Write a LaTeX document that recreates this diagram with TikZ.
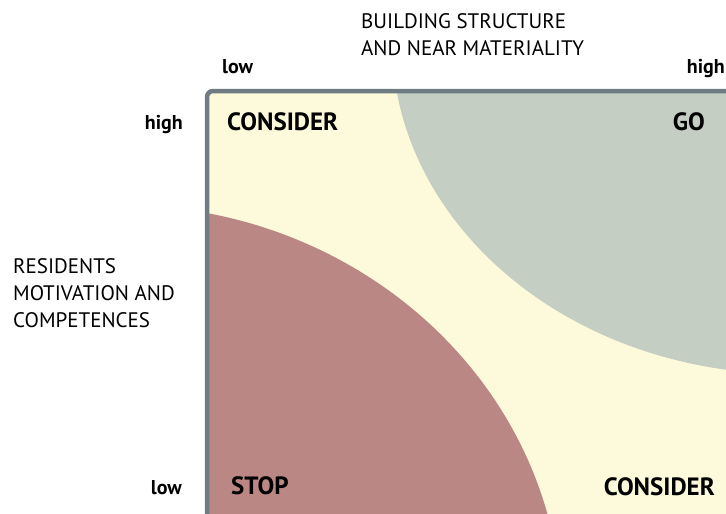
\documentclass[tikz,border=0pt]{standalone}
\usepackage{fontspec}
\setmainfont{PT Sans}
\usetikzlibrary{positioning}

\definecolor{framegray}{RGB}{112,124,132}
\definecolor{considerbg}{RGB}{253,249,219}
\definecolor{gobg}{RGB}{197,206,194}
\definecolor{stopbg}{RGB}{186,135,133}

\tikzset{
  axislabel/.style={font=\fontsize{21}{27}\selectfont, align=left, inner sep=0pt},
  level/.style={font=\bfseries\fontsize{20}{24}\selectfont, inner sep=0pt},
  zone/.style={font=\bfseries\fontsize{25}{29}\selectfont, inner sep=0pt},
  frame/.style={draw=framegray, line width=4.5pt, rounded corners=6pt}
}

\begin{document}
\begin{tikzpicture}[x=1pt, y=-1pt]
    \useasboundingbox (0,0) rectangle (726,514);
    \clip (0,0) rectangle (726,514);

    % matrix field with its three zones
    \begin{scope}
        \clip[rounded corners=6pt] (207,91) rectangle (760,540);
        \fill[considerbg] (207,91) rectangle (760,540);
        \fill[gobg] (790,40) ellipse [x radius=398pt, y radius=334pt];
        \fill[stopbg] (120,620) ellipse [x radius=442pt, y radius=415pt];
    \end{scope}
    \draw[frame] (207,91) rectangle (760,540);

    % zone names
    \node[zone, anchor=base west] (considertop) at (227,130) {CONSIDER};
    \node[zone, anchor=base east] (go) at (705,130) {GO};
    \node[zone, anchor=base west] (stop) at (231,494) {STOP};
    \node[zone, anchor=base east] (considerbot) at (715,495) {CONSIDER};

    % axis titles (base = last line)
    \node[axislabel, anchor=base west] (xtitle) at (361,55) {BUILDING STRUCTURE\\AND NEAR MATERIALITY};
    \node[axislabel, anchor=base west] (ytitle) at (13,327) {RESIDENTS\\MOTIVATION AND\\COMPETENCES};

    % scale ends
    \node[level, anchor=base west] (xlow) at (222,73) {low};
    \node[level, anchor=base east] (xhigh) at (725,73) {high};
    \node[level, anchor=base east] (yhigh) at (183,129) {high};
    \node[level, anchor=base east] (ylow) at (182,494) {low};
\end{tikzpicture}
\end{document}
